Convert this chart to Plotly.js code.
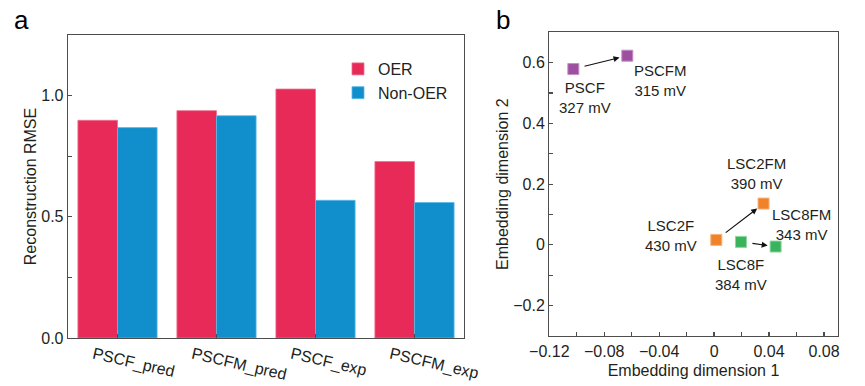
<!DOCTYPE html>
<html>
<head>
<meta charset="utf-8">
<script src="https://cdn.plot.ly/plotly-3.0.1.min.js"></script>
<style>html,body{margin:0;padding:0;background:#fff;}#chart{width:865px;height:386px;}</style>
</head>
<body>
<div id="chart"></div>
<script>
// ---- Panel a data ----
const categories = ['PSCF_pred', 'PSCFM_pred', 'PSCF_exp', 'PSCFM_exp'];
const oerRMSE = [0.898, 0.938, 1.027, 0.728];
const nonOerRMSE = [0.868, 0.917, 0.568, 0.559];

// ---- Panel b data ----
const materials = ['PSCF', 'PSCFM', 'LSC2F', 'LSC2FM', 'LSC8F', 'LSC8FM'];
const overpotentials = ['327 mV', '315 mV', '430 mV', '390 mV', '384 mV', '343 mV'];
const embed1 = [-0.1025, -0.0632, 0.0016, 0.036, 0.0196, 0.0448];
const embed2 = [0.579, 0.623, 0.0165, 0.136, 0.0099, -0.0055];
// arrows: from index -> to index
const arrowFrom = [0, 2, 4];
const arrowTo = [1, 3, 5];

// ---- styles ----
const FONT = 'Liberation Sans, Arial, sans-serif';
const TXT = '#231f20';
const AX = '#4d4d4d';
const pointColors = ['#9d4fa0', '#9d4fa0', '#f0822a', '#f0822a', '#3ab35d', '#3ab35d'];
const pointEdge = ['#c58fc7', '#c58fc7', '#f7b27a', '#f7b27a', '#8fd6a2', '#8fd6a2'];
// label offsets in pixels (dx right, dy up)
const labelDX = [12, 33, -45, -7, 0, 26];
const labelDY = [-28, -25, 4, 30, -33, 22];

const traces = [
  {type: 'bar', name: 'OER', x: categories, y: oerRMSE, xaxis: 'x', yaxis: 'y',
   marker: {color: '#e82a58', line: {color: '#f0708f', width: 0.8}}},
  {type: 'bar', name: 'Non-OER', x: categories, y: nonOerRMSE, xaxis: 'x', yaxis: 'y',
   marker: {color: '#118fcc', line: {color: '#5cb9e6', width: 0.8}}},
  {type: 'scatter', mode: 'markers', x: embed1, y: embed2, xaxis: 'x2', yaxis: 'y2',
   showlegend: false, hoverinfo: 'text', text: materials,
   marker: {symbol: 'square', size: 11, color: pointColors, line: {color: pointEdge, width: 1}}}
];

const annotations = [];
materials.forEach((m, i) => {
  annotations.push({xref: 'x2', yref: 'y2', x: embed1[i], y: embed2[i],
    text: m + '<br>' + overpotentials[i], showarrow: false,
    xshift: labelDX[i], yshift: labelDY[i], xanchor: 'center', yanchor: 'middle',
    font: {family: FONT, size: 15, color: TXT}});
});
arrowFrom.forEach((f, k) => {
  const t = arrowTo[k];
  annotations.push({xref: 'x2', yref: 'y2', axref: 'x2', ayref: 'y2',
    x: embed1[t], y: embed2[t], ax: embed1[f], ay: embed2[f], text: '',
    showarrow: true, arrowhead: 2, arrowsize: 1, arrowwidth: 1.2, arrowcolor: '#111',
    standoff: 8, startstandoff: 10});
});
// panel letters
annotations.push({xref: 'paper', yref: 'paper', x: 21 / 865, y: 1 - 20 / 386, text: 'a',
  showarrow: false, xanchor: 'center', yanchor: 'middle', font: {family: FONT, size: 26, color: '#000'}});
annotations.push({xref: 'paper', yref: 'paper', x: 503 / 865, y: 1 - 20 / 386, text: 'b',
  showarrow: false, xanchor: 'center', yanchor: 'middle', font: {family: FONT, size: 26, color: '#000'}});

const axisCommon = {
  showline: true, linecolor: AX, linewidth: 1.3, mirror: true, showgrid: false, zeroline: false,
  ticks: 'inside', ticklen: 4, tickwidth: 1.2, tickcolor: AX,
  tickfont: {family: FONT, size: 16, color: TXT}
};

const layout = {
  width: 865, height: 386,
  margin: {l: 0, r: 0, t: 0, b: 0},
  paper_bgcolor: '#fff', plot_bgcolor: '#fff',
  font: {family: FONT, color: TXT},
  barmode: 'group', bargap: 0.2, bargroupgap: 0,
  showlegend: true,
  legend: {x: 338 / 865, y: 1 - 52 / 386, xanchor: 'left', yanchor: 'top', bgcolor: 'rgba(0,0,0,0)',
    font: {family: FONT, size: 16, color: TXT}, tracegroupgap: 0},
  xaxis: Object.assign({}, axisCommon, {domain: [68 / 865, 464 / 865], anchor: 'y',
    tickangle: 13, ticklabelshift: -24, automargin: false}),
  yaxis: Object.assign({}, axisCommon, {domain: [1 - 338 / 386, 1 - 35 / 386], anchor: 'x',
    range: [0, 1.25], dtick: 0.5, tick0: 0, tickformat: '.1f', automargin: false,
    minor: {dtick: 0.25, ticks: 'inside', ticklen: 4, tickcolor: AX, tickwidth: 1.2},
    title: {text: 'Reconstruction RMSE', standoff: 0, font: {family: FONT, size: 16, color: TXT}}}),
  xaxis2: Object.assign({}, axisCommon, {domain: [549.3 / 865, 837.7 / 865], anchor: 'y2',
    range: [-0.12, 0.09], dtick: 0.04, tick0: -0.12, automargin: false,
    minor: {dtick: 0.02, ticks: 'inside', ticklen: 4, tickcolor: AX, tickwidth: 1.2},
    title: {text: 'Embedding dimension 1', standoff: 6, font: {family: FONT, size: 16, color: TXT}}}),
  yaxis2: Object.assign({}, axisCommon, {domain: [1 - 336 / 386, 1 - 32.3 / 386], anchor: 'x2',
    range: [-0.3, 0.7], dtick: 0.2, tick0: 0, automargin: false,
    minor: {dtick: 0.1, ticks: 'inside', ticklen: 4, tickcolor: AX, tickwidth: 1.2},
    title: {text: 'Embedding dimension 2', standoff: 0, font: {family: FONT, size: 16, color: TXT}}}),
  annotations: annotations
};

Plotly.newPlot('chart', traces, layout, {staticPlot: true, displayModeBar: false});
</script>
</body>
</html>
